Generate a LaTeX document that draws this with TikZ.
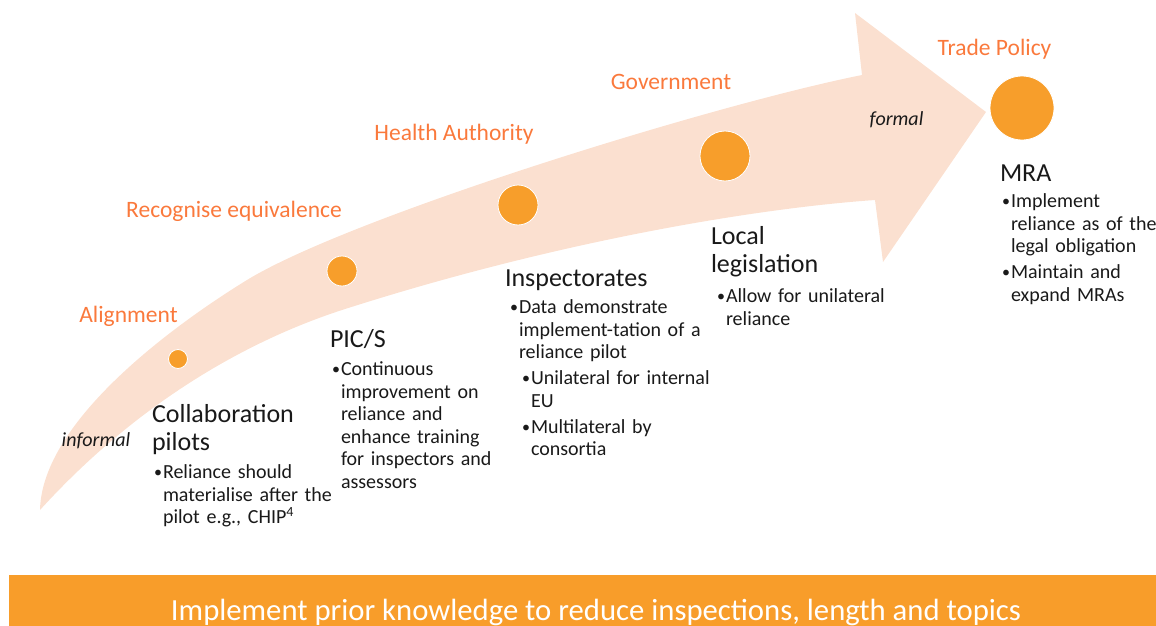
\documentclass[tikz,border=0pt]{standalone}
\usepackage{fontspec}
\setmainfont{Carlito}
\usetikzlibrary{positioning}

\definecolor{bandpeach}{RGB}{251,224,208}
\definecolor{dotorange}{RGB}{247,158,43}
\definecolor{labelorange}{RGB}{250,121,60}
\definecolor{bannerorange}{RGB}{248,157,42}
\definecolor{textdark}{RGB}{25,25,25}

\setlength{\parindent}{0pt}
% bullet paragraph with hanging indent, optional extra indent for sub-bullets
\newcommand{\bul}[2][0pt]{\hangindent=\dimexpr#1+9pt\relax\hangafter=1\strut\hspace*{#1}%
    \makebox[9pt][l]{\raisebox{1pt}{\fontsize{16}{16}\selectfont\textbullet}}#2\par}

\begin{document}
\begin{tikzpicture}[
    x=1pt, y=-1pt,
    every node/.style={inner sep=0pt, outer sep=0pt},
    dot/.style={circle, fill=dotorange, draw=white, line width=0.8pt},
    level/.style={text=labelorange, font=\fontsize{23.5}{26}\selectfont, anchor=base},
    mood/.style={text=textdark, font=\fontsize{20}{22}\selectfont\itshape, anchor=base},
    head/.style={text=textdark, align=left, anchor=north west, font=\fontsize{26}{28.5}\selectfont},
    list/.style={text=textdark, text width=#1, align=left, anchor=north west, font=\fontsize{20}{22.5}\selectfont\setlength{\parskip}{3.5pt}},
    list/.default=240pt
]
\useasboundingbox (0,0) rectangle (1156,626);

% Curved arrow from informal to formal
\fill[bandpeach] (40,510) .. controls (42,420) and (177,323) .. (247,280)
    .. controls (350,217) and (712,105) .. (862,75)
    -- (855,13) -- (986,112) -- (883,262) -- (875,200)
    .. controls (760,208) and (560,240) .. (342,310)
    .. controls (250,340) and (140,400) .. (40,510) -- cycle;

% Milestones along the arrow
\node[dot, minimum size=19pt] (d1) at (178,359) {};
\node[dot, minimum size=30pt] (d2) at (342,271) {};
\node[dot, minimum size=40pt] (d3) at (518,205) {};
\node[dot, minimum size=50pt] (d4) at (725,156) {};
\node[dot, minimum size=64pt] (d5) at (1022,108) {};

% Levels of authority
\node[level] (align) at (128.5,322.6) {Alignment};
\node[level] (equiv) at (234,217.6) {Recognise equivalence};
\node[level] (health) at (454,140.6) {Health Authority};
\node[level] (gov) at (671,89.6) {Government};
\node[level] (trade) at (994.5,55.6) {Trade Policy};

\node[mood] (informal) at (96,446.6) {informal};
\node[mood] (formal) at (896.5,125.6) {formal};

% Stage 1: Collaboration pilots
\node[head] (pilots) at (152,402.5) {\strut Collaboration\\pilots};
\node[list] (pilotsl) at (154,463) {\bul{Reliance should\newline materialise after the\newline pilot e.g., CHIP\textsuperscript{4}}};

% Stage 2: PIC/S
\node[head] (pics) at (330,327.5) {\strut PIC/S};
\node[list] (picsl) at (332,360) {\bul{Continuous\newline improvement on\newline reliance and\newline enhance training\newline for inspectors and\newline assessors}};

% Stage 3: Inspectorates
\node[head] (insp) at (505,266.5) {\strut Inspectorates};
\node[list] (inspl) at (510,298) {\bul{Data demonstrate\newline implement-tation of a\newline reliance pilot}
    \bul[12pt]{Unilateral for internal\newline EU}
    \bul[12pt]{Multilateral by\newline consortia}};

% Stage 4: Local legislation
\node[head] (local) at (711,224.5) {\strut Local\\legislation};
\node[list] (locall) at (717,287) {\bul{Allow for unilateral\newline reliance}};

% Stage 5: MRA
\node[head] (mra) at (1000,161.5) {\strut MRA};
\node[list] (mral) at (1002,192) {\bul{Implement\newline reliance as of the\newline legal obligation}
    \bul{Maintain and\newline expand MRAs}};

% Banner along the bottom
\fill[bannerorange] (9,575) rectangle (1156,626);
\node[text=white, font=\fontsize{30.7}{33}\selectfont, anchor=base] (banner) at (596,620.5)
    {Implement prior knowledge to reduce inspections, length and topics};

\end{tikzpicture}
\end{document}
